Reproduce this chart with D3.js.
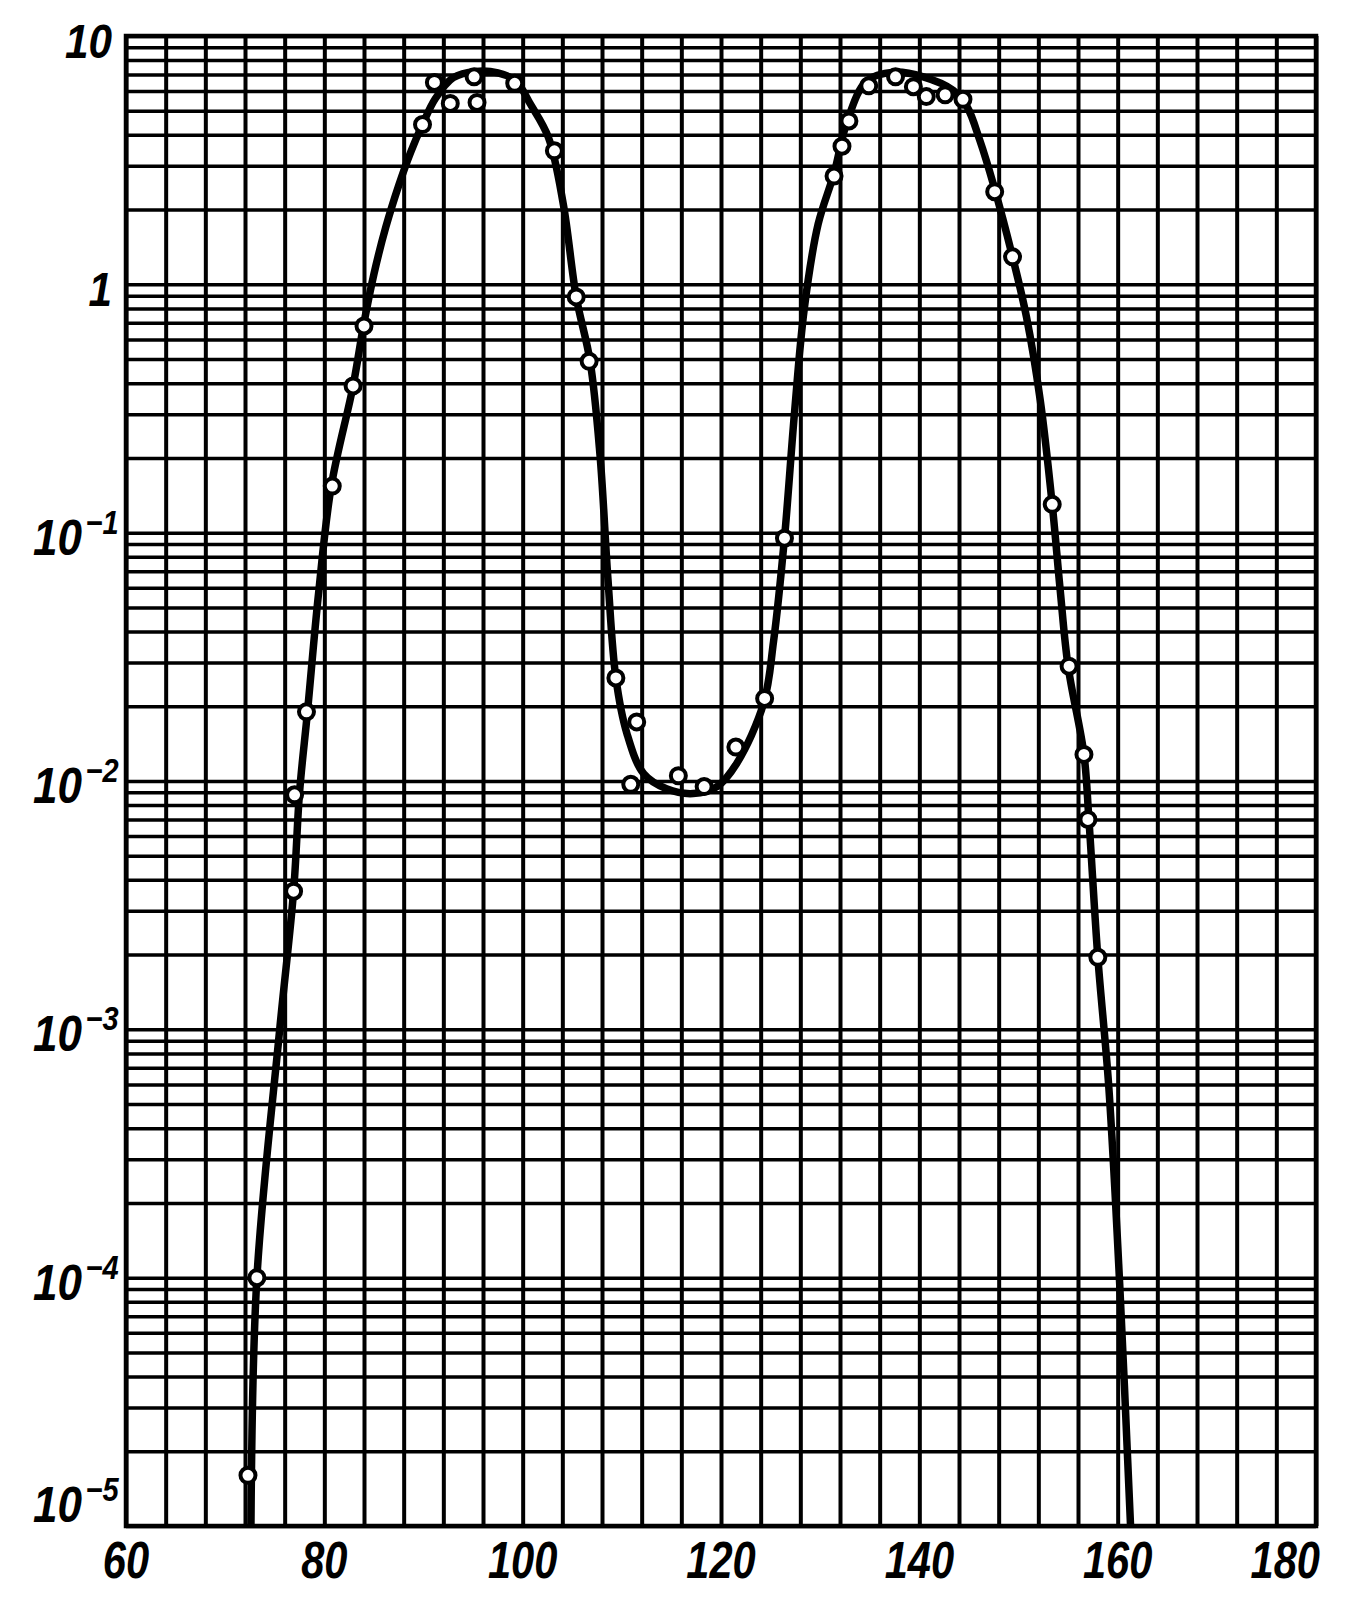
<!DOCTYPE html>
<html><head><meta charset="utf-8">
<script src="https://cdn.jsdelivr.net/npm/d3@7"></script>
<style>html,body{margin:0;padding:0;background:#fff;} svg{display:block;}</style>
</head><body>
<svg id="chart" width="1351" height="1622"></svg>
<script>
// ---- data ----
const xTickValues = [60, 80, 100, 120, 140, 160, 180];
const yTickValues = [10, 1, 0.1, 0.01, 0.001, 0.0001, 0.00001];
const yTickBase = ["10", "1", "10", "10", "10", "10", "10"];
const yTickExp = ["", "", "−1", "−2", "−3", "−4", "−5"];

const pointX = [72.3, 73.2, 76.9, 77.0, 78.2, 80.8, 82.9, 84.0, 89.9, 91.1, 92.7, 95.1, 95.4, 99.2,
  103.2, 105.4, 106.7, 109.4, 111.5, 110.9, 115.7, 118.3, 121.5, 124.4, 126.4,
  131.4, 132.2, 132.9, 134.9, 137.6, 139.4, 140.7, 142.6, 144.4, 147.6, 149.4,
  153.4, 155.1, 156.6, 157.0, 158.0];
const pointY = [1.6e-5, 1.0e-4, 3.6e-3, 8.8e-3, 0.019, 0.154, 0.39, 0.68, 4.4, 6.5, 5.35, 6.85, 5.4, 6.45,
  3.45, 0.89, 0.49, 0.026, 0.0173, 0.0097, 0.0105, 0.0095, 0.0137, 0.0215, 0.095,
  2.73, 3.6, 4.55, 6.3, 6.85, 6.25, 5.7, 5.8, 5.56, 2.36, 1.29,
  0.13, 0.029, 0.0128, 0.007, 0.00195];

const curveX = [72.6, 73.2, 75.5, 76.9, 77.5, 78.3, 79.4, 80.7, 82.9, 84.0, 85.0, 86.2, 87.5, 88.7, 89.9, 91.2,
  93.0, 95.3, 97.5, 99.3, 100.8, 102.6, 104.1, 105.4, 106.8, 107.8, 108.6, 109.4, 110.5, 112.2,
  114.5, 117.2, 119.6, 121.6, 124.3, 125.3, 126.4, 127.4, 128.4, 129.8, 131.4, 132.7, 134.7,
  137.4, 140.4, 143.4, 144.8, 146.1, 147.5, 149.4, 150.8, 152.2, 153.4, 154.2, 155.0, 156.6,
  157.1, 158.0, 159.1, 160.2, 161.3];
const curveY = [1e-5, 1e-4, 1e-3, 3.6e-3, 9e-3, 0.019, 0.056, 0.154, 0.39, 0.7, 1.1, 1.7, 2.5, 3.4, 4.4, 5.6,
  6.8, 7.2, 7.1, 6.6, 5.3, 3.9, 2.1, 0.89, 0.49, 0.205, 0.065, 0.026, 0.0156, 0.0107,
  0.0093, 0.0089, 0.0095, 0.0118, 0.0206, 0.0365, 0.095, 0.30, 0.80, 1.75, 2.8, 4.5, 6.6,
  7.15, 6.85, 6.05, 5.2, 3.8, 2.5, 1.29, 0.74, 0.34, 0.13, 0.059, 0.029, 0.0128,
  0.007, 0.00195, 5.9e-4, 9.5e-5, 1e-5];

// ---- layout ----
const W = 1351, H = 1622;
const m = {left: 126, right: 1316, top: 36, bottom: 1526};
const x = d3.scaleLinear().domain([60, 180]).range([m.left, m.right]);
const y = d3.scaleLog().domain([1e-5, 10]).range([m.bottom, m.top]);
const svg = d3.select("#chart");
svg.append("rect").attr("width", W).attr("height", H).attr("fill", "#fff");

const FONT = "'Liberation Sans', Arial, sans-serif";

// horizontal grid (log grid 1..9 per decade)
const hVals = [];
for (let k = -5; k <= 0; k++) for (let j = 1; j <= 9; j++) hVals.push(j * Math.pow(10, k));
hVals.push(10);
const gy = svg.append("g").attr("transform", `translate(${m.left},0)`)
  .call(d3.axisLeft(y).tickValues(hVals).tickFormat("").tickSize(-(m.right - m.left)).tickSizeOuter(0));
gy.select(".domain").remove();
gy.selectAll(".tick line").attr("stroke", "#000").attr("stroke-width", 3.5);

// vertical grid every 4 units
const vVals = d3.range(60, 181, 4);
const gx = svg.append("g").attr("transform", `translate(0,${m.bottom})`)
  .call(d3.axisBottom(x).tickValues(vVals).tickFormat("").tickSize(-(m.bottom - m.top)).tickSizeOuter(0));
gx.select(".domain").remove();
gx.selectAll(".tick line").attr("stroke", "#000").attr("stroke-width", 4);

// frame
svg.append("rect").attr("x", m.left).attr("y", m.top)
  .attr("width", m.right - m.left).attr("height", m.bottom - m.top)
  .attr("fill", "none").attr("stroke", "#000").attr("stroke-width", 4.5);

// curve
svg.append("clipPath").attr("id", "clip").append("rect")
  .attr("x", m.left).attr("y", m.top).attr("width", m.right - m.left).attr("height", m.bottom - m.top);
const curveData = curveX.map((v, i) => [v, curveY[i]]);
svg.append("path").datum(curveData)
  .attr("clip-path", "url(#clip)")
  .attr("d", d3.line().x(d => x(d[0])).y(d => y(d[1])).curve(d3.curveCatmullRom.alpha(0.5)))
  .attr("fill", "none").attr("stroke", "#000").attr("stroke-width", 7.5)
  .attr("stroke-linejoin", "round").attr("stroke-linecap", "butt");

// points
const pts = pointX.map((v, i) => [v, pointY[i]]);
svg.append("g").selectAll("circle").data(pts).join("circle")
  .attr("cx", d => x(d[0])).attr("cy", d => y(d[1])).attr("r", 7.5)
  .attr("fill", "#fff").attr("stroke", "#000").attr("stroke-width", 4);

// x labels
xTickValues.forEach((v, i) => {
  const last = i === xTickValues.length - 1;
  const px = last ? x(v) + 4 : x(v);
  svg.append("g").attr("transform", `translate(${px},1578) scale(0.8,1)`)
    .append("text").text(v)
    .attr("text-anchor", last ? "end" : "middle")
    .attr("font-family", FONT).attr("font-weight", "bold").attr("font-style", "italic")
    .attr("font-size", 52).attr("fill", "#000");
});

// y labels
yTickValues.forEach((v, i) => {
  const by = Math.min(y(v) + 22, 1522);
  if (yTickExp[i] === "") {
    svg.append("g").attr("transform", `translate(112,${by}) scale(0.88,1)`)
      .append("text").text(yTickBase[i])
      .attr("text-anchor", "end")
      .attr("font-family", FONT).attr("font-weight", "bold").attr("font-style", "italic")
      .attr("font-size", 48).attr("fill", "#000");
  } else {
    const t = svg.append("g").attr("transform", `translate(33,${by}) scale(0.88,1)`)
      .append("text")
      .attr("font-family", FONT).attr("font-weight", "bold").attr("font-style", "italic")
      .attr("font-size", 50).attr("fill", "#000");
    t.append("tspan").text(yTickBase[i]);
    t.append("tspan").text(yTickExp[i]).attr("dx", 4).attr("dy", -21)
      .attr("font-size", 33);
  }
});
</script>
</body></html>
